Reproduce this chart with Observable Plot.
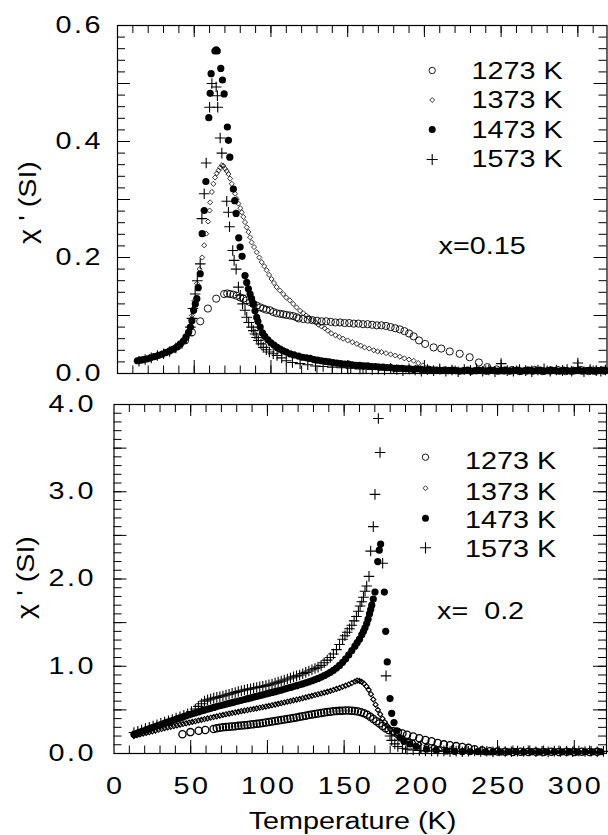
<!DOCTYPE html>
<html><head><meta charset="utf-8">
<script src="https://cdn.jsdelivr.net/npm/d3@7"></script>
<script src="https://cdn.jsdelivr.net/npm/@observablehq/plot@0.6"></script>
<style>
body{margin:0;background:#fff;}
#chart{width:608px;}
#chart svg{display:block;}
g[aria-label="y-axis tick label"] text, g[aria-label="x-axis tick label"] text{letter-spacing:2px;}
</style></head><body><div id="chart"></div>
<script>
// ---------- data: [Temperature (K), chi' (SI)] ----------
const legendLabels = ["1273 K", "1373 K", "1473 K", "1573 K"];
const panelLabels = ["x=0.15", "x=  0.2"];
const xTitle = "Temperature (K)";
const yTitle = "χ ' (SI)";
const xTickLabels = [0, 50, 100, 150, 200, 250, 300];
const topYTickLabels = [0, 0.2, 0.4, 0.6];
const botYTickLabels = [0, 1, 2, 3, 4];

// x = 0.15 panel
const top1273 = [[44,0.057],[48.5,0.071],[53.9,0.09],[58.9,0.112],[64.3,0.129],[69.5,0.137],[71.5,0.138],[73.4,0.137],[75.5,0.136],[77.7,0.134],[80,0.131],[82,0.129],[84,0.126],[86.4,0.123],[88.5,0.12],[90.7,0.117],[93,0.114],[95,0.112],[97,0.11],[99.4,0.109],[101.5,0.106],[103.7,0.104],[106,0.103],[108,0.102],[110,0.101],[112.3,0.1],[114.5,0.099],[116.7,0.097],[118,0.095],[121,0.094],[124,0.093],[127,0.092],[130,0.091],[133,0.09],[136,0.09],[139,0.089],[142,0.088],[145,0.088],[148,0.087],[151,0.087],[154,0.086],[157,0.086],[160,0.085],[163,0.085],[166,0.084],[169,0.083],[172,0.083],[175,0.082],[178,0.08],[181,0.078],[184,0.076],[187,0.073],[190,0.069],[193,0.064],[196.5,0.057],[200.5,0.051],[206,0.045],[211,0.043],[216.5,0.038],[223,0.034],[229.5,0.028],[235.5,0.019],[241,0.011],[247,0.007],[252,0.005],[257,0.006],[262,0.004],[267,0.005],[272,0.006],[277,0.004],[282,0.005],[287,0.006],[292,0.004],[297,0.005],[302,0.006],[307,0.004],[312,0.005],[317,0.005]];
const top1373 = [[13,0.022],[15,0.024],[17,0.025],[19,0.026],[21,0.028],[23,0.029],[25,0.031],[27,0.033],[29,0.035],[31,0.037],[33,0.039],[35,0.042],[37,0.045],[39,0.048],[41,0.052],[43,0.057],[45,0.063],[47,0.072],[48.5,0.1],[50,0.125],[51.7,0.155],[53.5,0.18],[55.2,0.2],[56.5,0.221],[57.8,0.241],[59,0.262],[60,0.281],[60.4,0.295],[61.5,0.313],[62.5,0.327],[63.6,0.338],[64.7,0.345],[65.8,0.35],[67,0.355],[68,0.359],[69,0.358],[70.1,0.353],[71.2,0.349],[72.3,0.344],[73.4,0.336],[74.5,0.327],[75.5,0.318],[76.6,0.31],[77.7,0.301],[78.8,0.293],[80,0.285],[81,0.278],[82,0.27],[83.1,0.261],[84.2,0.252],[85.3,0.244],[86.4,0.235],[87.4,0.226],[89,0.218],[90.7,0.209],[92.4,0.2],[94,0.192],[95.6,0.185],[97.2,0.178],[98.8,0.17],[100.4,0.163],[102,0.156],[103.7,0.149],[105.8,0.143],[108,0.137],[110,0.131],[112.3,0.126],[114.5,0.12],[116.7,0.114],[119,0.108],[121,0.104],[123,0.1],[125,0.096],[127,0.092],[129,0.088],[131,0.084],[133,0.081],[135,0.078],[137,0.074],[139.4,0.069],[142,0.066],[144.5,0.063],[147,0.06],[150,0.057],[153,0.054],[156,0.051],[158.5,0.048],[161,0.045],[164,0.043],[167,0.04],[169.5,0.038],[172,0.037],[175,0.035],[178,0.033],[181,0.031],[184,0.029],[187,0.026],[190,0.024],[193,0.022],[196,0.018],[199,0.014],[202,0.01],[206,0.008],[211,0.006],[216,0.007],[221,0.005],[226,0.006],[231,0.004],[236,0.005],[241,0.006],[246,0.004],[251,0.005],[256,0.006],[261,0.004],[266,0.005],[271,0.004],[276,0.006],[281,0.005],[286,0.004],[291,0.006],[296,0.005],[301,0.004],[306,0.006],[311,0.005],[316,0.004]];
const top1473 = [[13,0.022],[15,0.023],[17,0.024],[19.3,0.025],[21.5,0.027],[24,0.029],[26.5,0.031],[29,0.033],[31.5,0.036],[34,0.039],[36.5,0.042],[39,0.046],[41,0.051],[43,0.056],[44.7,0.063],[46.3,0.071],[47.5,0.08],[48.5,0.091],[49.6,0.109],[50.7,0.12],[51.7,0.129],[52.6,0.148],[53.9,0.172],[55.2,0.241],[56.5,0.281],[57.6,0.331],[59.5,0.441],[60.4,0.483],[61,0.517],[63.5,0.556],[64.3,0.558],[65,0.556],[67.3,0.526],[68.4,0.506],[69.5,0.482],[71.6,0.425],[72.3,0.402],[73.2,0.373],[75.5,0.318],[76.4,0.298],[77.3,0.276],[79,0.234],[79.9,0.218],[81.2,0.202],[83.1,0.169],[84.2,0.157],[85.3,0.146],[86.4,0.137],[87.4,0.129],[88.5,0.12],[89.6,0.108],[90.7,0.097],[91.5,0.09],[93,0.08],[94.5,0.07],[96,0.064],[98,0.058],[100,0.053],[102,0.049],[104,0.045],[106,0.042],[108,0.039],[110,0.037],[112.5,0.034],[115,0.032],[118,0.03],[120.5,0.028],[123,0.027],[125.5,0.026],[128,0.024],[130.5,0.023],[133,0.022],[135.5,0.021],[138,0.02],[140.5,0.019],[143,0.018],[145.5,0.017],[148,0.016],[150.5,0.016],[153,0.015],[155.5,0.014],[158,0.014],[160.5,0.013],[163,0.013],[165.5,0.012],[168,0.012],[170.5,0.011],[173,0.011],[175.5,0.01],[178,0.01],[180.5,0.009],[183,0.009],[185.5,0.009],[188,0.008],[190.5,0.008],[193,0.007],[195.5,0.008],[198,0.007],[200.5,0.006],[203,0.007],[205.5,0.006],[208,0.006],[210.5,0.005],[213,0.006],[215.5,0.005],[218,0.006],[220.5,0.005],[223,0.004],[225.5,0.005],[228,0.006],[230.5,0.004],[233,0.005],[235.5,0.006],[238,0.005],[240.5,0.004],[243,0.006],[245.5,0.005],[248,0.004],[250.5,0.005],[253,0.006],[255.5,0.004],[258,0.005],[260.5,0.006],[263,0.004],[265.5,0.005],[268,0.006],[270.5,0.004],[273,0.005],[275.5,0.006],[278,0.004],[280.5,0.005],[283,0.006],[285.5,0.005],[288,0.004],[290.5,0.006],[293,0.005],[295.5,0.004],[298,0.005],[300.5,0.006],[303,0.004],[305.5,0.005],[308,0.006],[310.5,0.004],[313,0.005],[315.5,0.006],[318,0.005]];
const top1573 = [[14,0.021],[18,0.024],[22,0.027],[26,0.031],[30,0.034],[34,0.038],[38,0.044],[42,0.052],[46,0.065],[47.5,0.08],[48.5,0.095],[49.1,0.112],[50.6,0.137],[52,0.16],[53.9,0.189],[55,0.267],[56.5,0.31],[57.8,0.363],[60,0.459],[61.5,0.5],[64.3,0.494],[65.1,0.479],[65.3,0.459],[66.9,0.406],[68,0.38],[71.2,0.297],[72.3,0.278],[73,0.253],[75.1,0.212],[76,0.195],[77.3,0.18],[78.8,0.149],[80,0.135],[81.5,0.12],[83.1,0.109],[84.2,0.097],[85.5,0.088],[87.4,0.08],[88.5,0.074],[89.6,0.068],[90.7,0.062],[91.8,0.057],[93.5,0.051],[95,0.045],[97,0.041],[99,0.037],[101.5,0.034],[104,0.031],[107,0.027],[110,0.022],[114,0.019],[119,0.017],[124,0.015],[129,0.013],[134,0.012],[140,0.011],[146,0.01],[152,0.009],[158,0.008],[162,0.009],[166,0.007],[170,0.008],[174,0.006],[178,0.009],[182,0.007],[186,0.005],[190,0.008],[194,0.006],[198,0.004],[202,0.007],[206,0.005],[210,0.008],[214,0.004],[218,0.006],[222,0.003],[226,0.007],[230,0.005],[234,0.008],[238,0.004],[242,0.006],[246,0.003],[250,0.017],[254,0.005],[258,0.004],[262,0.007],[266,0.005],[270,0.003],[274,0.006],[278,0.008],[282,0.004],[286,0.006],[290,0.005],[293,0.007],[296,0.004],[300,0.018],[304,0.003],[308,0.007],[312,0.005],[315,0.004],[318,0.006]];

// x = 0.2 panel
const bot1273 = [[44.6,0.22],[49.8,0.245],[55.2,0.26],[59.5,0.27],[64.9,0.28],[67,0.29],[69,0.295],[71,0.3],[73,0.303],[75,0.307],[77,0.31],[79,0.313],[81,0.317],[83,0.32],[85,0.324],[87,0.328],[89,0.332],[91,0.336],[93,0.34],[95,0.345],[97,0.35],[99,0.355],[101,0.36],[103,0.366],[105,0.372],[107,0.378],[109,0.384],[111,0.39],[113,0.396],[115,0.402],[117,0.408],[119,0.414],[121,0.42],[123,0.427],[125,0.434],[127,0.44],[129,0.447],[131,0.453],[133,0.459],[135,0.465],[137,0.47],[139,0.475],[141,0.479],[143,0.483],[145,0.486],[147,0.489],[149,0.491],[151,0.492],[153,0.492],[155,0.49],[157,0.487],[159,0.482],[161,0.474],[163,0.462],[165,0.445],[167,0.42],[169,0.395],[171,0.37],[173,0.345],[175,0.315],[177,0.29],[179,0.27],[182,0.255],[185,0.245],[188,0.23],[191,0.215],[195,0.195],[199,0.175],[203,0.155],[207,0.14],[211,0.12],[215,0.105],[219,0.095],[223,0.085],[227,0.075],[231,0.065],[235,0.05],[240,0.035],[245,0.025],[250,0.022],[255,0.02],[260,0.018],[265,0.02],[270,0.017],[275,0.019],[280,0.018],[285,0.02],[290,0.017],[295,0.019],[300,0.018],[305,0.02],[310,0.017],[315,0.019]];
const bot1373 = [[13,0.2],[15,0.21],[17,0.22],[19,0.228],[21,0.236],[23,0.245],[25,0.254],[27,0.263],[29,0.272],[31,0.281],[33,0.29],[35,0.298],[37,0.306],[39,0.314],[41,0.322],[43,0.33],[45,0.338],[47,0.346],[49,0.354],[51,0.362],[53,0.37],[55,0.378],[57,0.386],[59,0.394],[61,0.402],[63,0.41],[65,0.418],[67,0.426],[69,0.434],[71,0.442],[73,0.45],[75,0.457],[77,0.464],[79,0.471],[81,0.478],[83,0.485],[85,0.492],[87,0.498],[89,0.504],[91,0.51],[93,0.517],[95,0.524],[97,0.531],[99,0.538],[101,0.545],[103,0.553],[105,0.561],[107,0.569],[109,0.577],[111,0.585],[113,0.593],[115,0.601],[117,0.609],[119,0.617],[121,0.625],[123,0.634],[125,0.643],[127,0.652],[129,0.661],[131,0.67],[133,0.679],[135,0.688],[137,0.697],[139,0.707],[141,0.717],[143,0.728],[145,0.74],[147,0.752],[149,0.765],[151,0.778],[153,0.792],[155,0.808],[157,0.825],[158.5,0.835],[160,0.832],[161.5,0.82],[163,0.8],[164.5,0.77],[166,0.73],[167.5,0.68],[169,0.62],[170.5,0.56],[172,0.5],[173.5,0.45],[175,0.4],[176.5,0.36],[178,0.32],[180,0.28],[182,0.24],[184,0.21],[186,0.19],[188.5,0.17],[192,0.145],[195,0.126],[199,0.105],[203.7,0.088],[208,0.07],[212.3,0.05],[217,0.04],[222,0.03],[228,0.025],[233,0.022],[238,0.02],[243,0.021],[248,0.018],[253,0.02],[258,0.019],[263,0.017],[268,0.02],[273,0.018],[278,0.019],[283,0.017],[288,0.02],[293,0.018],[298,0.019],[303,0.017],[308,0.02],[313,0.018],[318,0.019]];
const bot1473 = [[13,0.22],[15,0.232],[17,0.245],[19,0.258],[21,0.27],[23,0.283],[25,0.296],[27,0.309],[29,0.322],[31,0.335],[33,0.348],[35,0.36],[37,0.372],[39,0.384],[41,0.396],[43,0.408],[45,0.42],[47,0.432],[49,0.444],[51,0.455],[53,0.466],[55,0.477],[57,0.488],[59,0.498],[61,0.508],[63,0.518],[65,0.528],[67,0.538],[69,0.547],[71,0.556],[73,0.565],[75,0.574],[77,0.583],[79,0.592],[81,0.601],[83,0.61],[85,0.619],[87,0.628],[89,0.637],[91,0.646],[93,0.655],[95,0.664],[97,0.673],[99,0.682],[101,0.691],[103,0.7],[105,0.709],[107,0.718],[109,0.727],[111,0.737],[113,0.747],[115,0.757],[117,0.767],[119,0.777],[121,0.788],[123,0.799],[125,0.81],[127,0.822],[129,0.834],[131,0.847],[133,0.861],[135,0.876],[137,0.892],[139,0.91],[141,0.93],[143,0.953],[145,0.98],[147,1.01],[149,1.045],[151,1.085],[153,1.13],[155,1.18],[157,1.23],[158.5,1.27],[160,1.31],[161.5,1.36],[162.6,1.4],[163.6,1.44],[164.7,1.49],[165.6,1.54],[166.5,1.6],[167.3,1.65],[168,1.7],[169,1.77],[170.1,1.85],[171.9,2.2],[172.9,2.33],[173.8,2.4],[176.2,1.85],[177.1,1.4],[178.1,1.05],[179.9,0.63],[181,0.46],[182.5,0.355],[184.2,0.26],[186.4,0.18],[189,0.14],[192.9,0.11],[197,0.08],[203.7,0.05],[210,0.04],[216.7,0.03],[222,0.025],[227,0.022],[232,0.02],[237,0.022],[242,0.019],[247,0.021],[252,0.018],[257,0.02],[262,0.022],[267,0.019],[272,0.021],[277,0.018],[282,0.02],[287,0.022],[292,0.019],[297,0.021],[302,0.018],[307,0.02],[312,0.019],[317,0.02]];
const bot1573 = [[13,0.24],[15.5,0.255],[18,0.27],[20.5,0.285],[23,0.3],[25.5,0.315],[28,0.33],[30.5,0.345],[33,0.36],[35.5,0.375],[38,0.39],[40.5,0.405],[43,0.42],[45.5,0.437],[48,0.455],[50.5,0.48],[53,0.51],[55,0.54],[57,0.57],[59,0.6],[61,0.615],[63,0.625],[65,0.635],[67,0.643],[69,0.65],[71,0.66],[73,0.67],[75,0.68],[77,0.69],[79,0.7],[81,0.71],[83,0.72],[85,0.728],[87,0.735],[89,0.742],[91,0.75],[93,0.757],[95,0.764],[97,0.771],[99,0.778],[101,0.787],[103,0.797],[105,0.807],[107,0.818],[109,0.83],[111,0.842],[113,0.854],[115,0.866],[117,0.878],[119,0.89],[121,0.9],[123,0.915],[125,0.93],[127,0.945],[129,0.96],[131,0.975],[133,0.99],[135,1.01],[137,1.04],[139,1.07],[141,1.1],[143,1.14],[145,1.19],[147,1.25],[149,1.31],[150.5,1.35],[152,1.39],[153.5,1.43],[155,1.47],[156.5,1.52],[158,1.57],[159.3,1.63],[160.4,1.69],[161.5,1.74],[162.6,1.79],[163.6,1.86],[164.7,1.92],[166.2,2.03],[167.3,2.32],[169,2.6],[170.1,2.97],[172.3,3.84],[173.4,3.45],[175.1,2.18],[177.3,0.89],[179.9,0.2],[181,0.15],[183,0.11],[185,0.08],[188,0.06],[191,0.05],[195,0.04],[199,0.035],[203,0.03],[207,0.028],[211,0.025],[215,0.03],[219,0.022],[223,0.027],[227,0.02],[231,0.025],[235,0.03],[239,0.022],[243,0.026],[247,0.019],[251,0.028],[255,0.023],[259,0.02],[263,0.027],[267,0.022],[271,0.03],[275,0.021],[279,0.025],[283,0.019],[287,0.027],[291,0.022],[295,0.026],[299,0.02],[303,0.028],[307,0.023],[311,0.025],[315,0.021],[319,0.024]];

// ---------- drawing ----------
const FONT = "'Liberation Sans', Arial, Helvetica, sans-serif";
const W = 608;
const STRETCH = 1.25; // the original lettering is horizontally widened

const symDefs = [
  {symbol: "circle", stroke: "black", fill: "none", strokeWidth: 0.9},
  {symbol: "diamond2", stroke: "black", fill: "none", strokeWidth: 0.8},
  {symbol: "circle", fill: "black", stroke: "none"},
  {symbol: "plus", stroke: "black", strokeWidth: 1.1}
];
const dataR = [3.6, 2.3, 3.6, 3.5];
const legR = [3.2, 2.2, 3.5, 3.7];

function frameTicks(xMinor, xMajor, yMinor, yMajor, iw, ih) {
  const s = {stroke: "black", strokeWidth: 1};
  return [
    Plot.tickX(xMinor, {x: d => d, insetTop: ih - 7.5, ...s}),
    Plot.tickX(xMinor, {x: d => d, insetBottom: ih - 8, ...s}),
    Plot.tickX(xMajor, {x: d => d, insetTop: ih - 13, ...s}),
    Plot.tickX(xMajor, {x: d => d, insetBottom: ih - 12, ...s}),
    Plot.tickY(yMinor, {y: d => d, insetRight: iw - 8, ...s}),
    Plot.tickY(yMinor, {y: d => d, insetLeft: iw - 8, ...s}),
    Plot.tickY(yMajor, {y: d => d, insetRight: iw - 13, ...s}),
    Plot.tickY(yMajor, {y: d => d, insetLeft: iw - 13, ...s}),
    Plot.frame({stroke: "black", strokeWidth: 1.2})
  ];
}

// strokeBoost darkens the densely sampled open-marker bands of the lower panel
function seriesMarks(list, strokeBoost = [0, 0, 0, 0]) {
  return list.map((data, i) => {
    const def = {...symDefs[i]};
    if (def.strokeWidth) def.strokeWidth += strokeBoost[i];
    return Plot.dot(data, {x: d => d[0], y: d => d[1], r: dataR[i], ...def});
  });
}

function legendMarks(symDx, textDx, symDys, textDys) {
  const m = [];
  legendLabels.forEach((lab, i) => {
    m.push(Plot.dot([lab], {frameAnchor: "top-left", dx: symDx, dy: symDys[i], r: legR[i], ...symDefs[i]}));
    m.push(Plot.text([lab], {frameAnchor: "top-left", dx: textDx, dy: textDys[i], textAnchor: "start", lineAnchor: "middle", fontSize: 23, fill: "black"}));
  });
  return m;
}

// widen every text horizontally (glyphs and spacing) to match the original lettering
function stretchText(svg) {
  d3.select(svg).selectAll("text").each(function () {
    const L = this.getComputedTextLength();
    if (L > 0) {
      this.setAttribute("textLength", (L * STRETCH).toFixed(2));
      this.setAttribute("lengthAdjust", "spacingAndGlyphs");
    }
  });
}

const xMinor = d3.range(10, 320, 10);
const xMajor = d3.range(50, 320, 50);
const chart = document.getElementById("chart");

// top panel
{
  const mL = 117, mR = 1.5, mT = 25, mB = 15, H = 388;
  const iw = W - mL - mR, ih = H - mT - mB;
  const svg = Plot.plot({
    width: W, height: H, marginLeft: mL, marginRight: mR, marginTop: mT, marginBottom: mB,
    style: {fontFamily: FONT, fontSize: "23px", color: "black", background: "white", overflow: "visible"},
    x: {domain: [0, 319], axis: null},
    y: {domain: [0, 0.6]},
    marks: [
      ...frameTicks(xMinor, xMajor, d3.range(0.02, 0.59, 0.02), [0.1, 0.2, 0.3, 0.4, 0.5], iw, ih),
      Plot.axisY(topYTickLabels, {tickSize: 0, tickPadding: 14.5, tickFormat: d3.format(".1f"), fontSize: 23, label: null}),
      ...seriesMarks([top1273, top1373, top1473, top1573]),
      ...legendMarks(314.7, 354, [45, 74.5, 104, 134], [46, 75.5, 105, 134.5]),
      Plot.text([panelLabels[0]], {frameAnchor: "top-left", dx: 321, dy: 221, textAnchor: "start", lineAnchor: "middle", fontSize: 23}),
      Plot.text([yTitle], {frameAnchor: "left", dx: -89, dy: 3, rotate: -90, textAnchor: "middle", lineAnchor: "middle", fontSize: 23})
    ]
  });
  chart.appendChild(svg);
  stretchText(svg);
}

// bottom panel
{
  const mL = 113.5, mR = 2, mT = 16, mB = 82, H = 447;
  const iw = W - mL - mR, ih = H - mT - mB;
  const svg = Plot.plot({
    width: W, height: H, marginLeft: mL, marginRight: mR, marginTop: mT, marginBottom: mB,
    style: {fontFamily: FONT, fontSize: "23px", color: "black", background: "white", overflow: "visible"},
    x: {domain: [0, 321]},
    y: {domain: [0, 4]},
    marks: [
      ...frameTicks(xMinor, xMajor, d3.range(0.1, 3.95, 0.1), [0.5, 1, 1.5, 2, 2.5, 3, 3.5], iw, ih),
      Plot.axisY(botYTickLabels, {tickSize: 0, tickPadding: 18, tickFormat: d3.format(".1f"), fontSize: 23, label: null}),
      Plot.axisX(xTickLabels, {tickSize: 0, tickPadding: 24, dx: 1.25, tickFormat: d => String(d), fontSize: 23, label: null}),
      ...seriesMarks([bot1273, bot1373, bot1473, bot1573], [0.4, 0.3, 0, 0]),
      ...legendMarks(311.5, 351, [52.7, 83.7, 113.7, 143.3], [57, 87.7, 115.7, 145]),
      Plot.text([panelLabels[1]], {frameAnchor: "top-left", dx: 323, dy: 207, textAnchor: "start", lineAnchor: "middle", fontSize: 23}),
      Plot.text([yTitle], {frameAnchor: "left", dx: -87.5, dy: -1.5, rotate: -90, textAnchor: "middle", lineAnchor: "middle", fontSize: 23}),
      Plot.text([xTitle], {frameAnchor: "bottom", dx: -7.75, dy: 59, textAnchor: "middle", lineAnchor: "top", fontSize: 23})
    ]
  });
  chart.appendChild(svg);
  stretchText(svg);
}
</script></body></html>
